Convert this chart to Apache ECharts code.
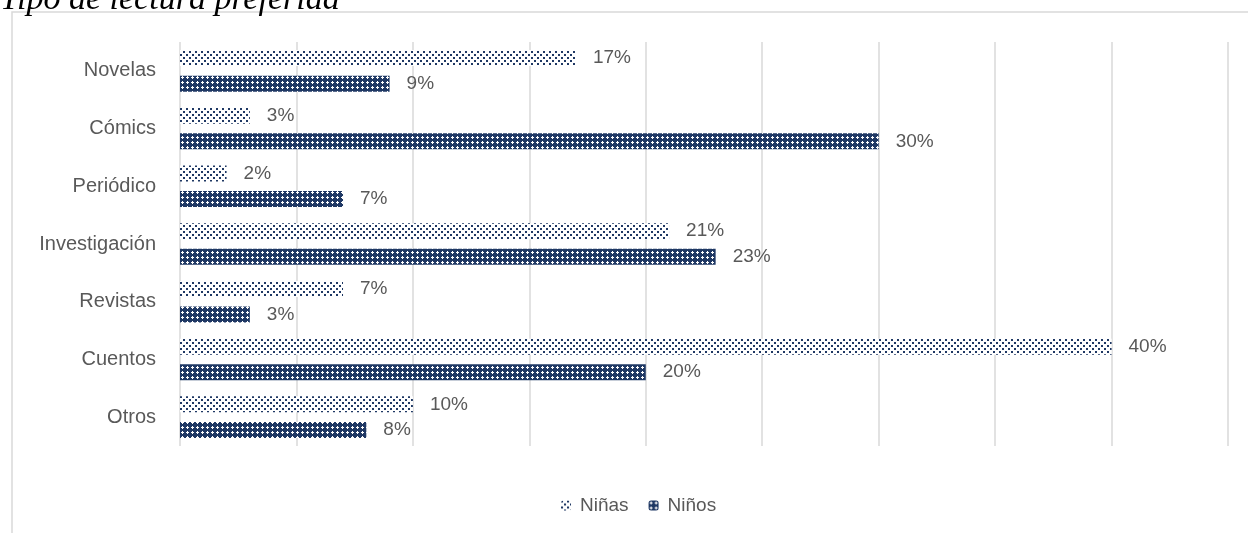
<!DOCTYPE html>
<html>
<head>
<meta charset="utf-8">
<script src="https://cdn.jsdelivr.net/npm/echarts@6/dist/echarts.min.js"></script>
<style>html,body{margin:0;padding:0;background:#fff;}#c{width:1248px;height:533px;}</style>
</head>
<body>
<div id="c"></div>
<script>
var categories = ['Novelas', 'Cómics', 'Periódico', 'Investigación', 'Revistas', 'Cuentos', 'Otros'];
var ninas = [17, 3, 2, 21, 7, 40, 10];
var ninos = [9, 30, 7, 23, 3, 20, 8];
var seriesNames = ['Niñas', 'Niños'];
var titleText = 'Tipo de lectura preferida';

var NAVY = '#1f3864';
function dotPattern() {
  var c = document.createElement('canvas');
  c.width = 6; c.height = 6;
  var g = c.getContext('2d');
  g.fillStyle = '#fff'; g.fillRect(0, 0, 6, 6);
  g.fillStyle = NAVY;
  g.fillRect(0, 0, 2, 2);
  g.fillRect(3, 3, 2, 2);
  return c;
}
function densePattern() {
  var c = document.createElement('canvas');
  c.width = 5; c.height = 5;
  var g = c.getContext('2d');
  g.fillStyle = NAVY; g.fillRect(0, 0, 5, 5);
  g.fillStyle = '#fff';
  g.fillRect(2, 1, 1, 3);
  g.fillRect(1, 2, 3, 1);
  return c;
}
var patA = {image: dotPattern(), repeat: 'repeat'};
var patB = {image: densePattern(), repeat: 'repeat'};

var chart = echarts.init(document.getElementById('c'));
var labelStyle = {show: true, position: 'right', distance: 17, color: '#595959', fontSize: 19,
  fontFamily: 'Liberation Sans', formatter: '{c}%'};
chart.setOption({
  animation: false,
  graphic: [
    {type: 'rect', shape: {x: 12, y: 12, width: 1260, height: 600}, style: {fill: 'none', stroke: '#d9d9d9', lineWidth: 1.5}, z: -10},
    {type: 'text', x: 0, y: 17, style: {text: titleText, font: 'italic 34px "Liberation Serif"', fill: '#000', verticalAlign: 'bottom'}}
  ],
  legend: {
    top: 491, left: 556, itemWidth: 10, itemHeight: 10, itemGap: 20,
    textStyle: {color: '#595959', fontSize: 19, fontFamily: 'Liberation Sans', padding: [0, 0, 0, 4]},
    data: seriesNames
  },
  grid: {left: 180, right: 20, top: 42, bottom: 87},
  xAxis: {
    type: 'value', min: 0, max: 45, interval: 5,
    axisLabel: {show: false}, axisLine: {show: false}, axisTick: {show: false},
    splitLine: {lineStyle: {color: '#d9d9d9', width: 1.5}}
  },
  yAxis: {
    type: 'category', data: categories, inverse: true,
    axisLine: {show: false}, axisTick: {show: false},
    axisLabel: {color: '#595959', fontSize: 20, fontFamily: 'Liberation Sans', margin: 24}
  },
  series: [
    {name: seriesNames[0], type: 'bar', data: ninas, barWidth: 16, barGap: '60%',
      itemStyle: {color: patA}, label: labelStyle},
    {name: seriesNames[1], type: 'bar', data: ninos, barWidth: 16, barGap: '60%',
      itemStyle: {color: patB}, label: labelStyle}
  ]
});
</script>
</body>
</html>
